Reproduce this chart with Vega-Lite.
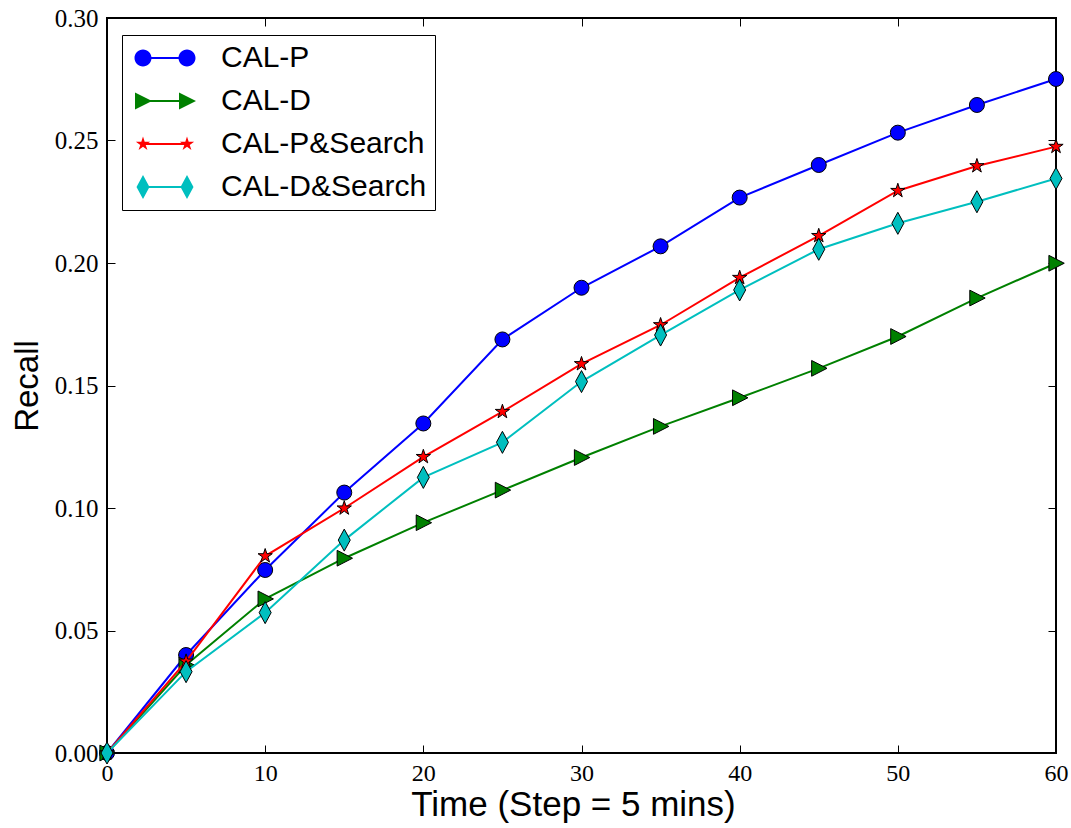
{
  "$schema": "https://vega.github.io/schema/vega-lite/v6.json",
  "width": 949,
  "height": 735,
  "autosize": {"type": "none"},
  "padding": {"left": 107, "top": 18, "right": 15, "bottom": 75},
  "background": "white",
  "config": {
    "view": {"stroke": "black", "strokeWidth": 2},
    "axis": {"grid": false, "domain": false}
  },
  "data": {
    "values": [
      {"series": "CAL-P", "t": 0, "recall": 0},
      {"series": "CAL-P", "t": 5, "recall": 0.0400},
      {"series": "CAL-P", "t": 10, "recall": 0.0747},
      {"series": "CAL-P", "t": 15, "recall": 0.1063},
      {"series": "CAL-P", "t": 20, "recall": 0.1345},
      {"series": "CAL-P", "t": 25, "recall": 0.1688},
      {"series": "CAL-P", "t": 30, "recall": 0.1899},
      {"series": "CAL-P", "t": 35, "recall": 0.2068},
      {"series": "CAL-P", "t": 40, "recall": 0.2267},
      {"series": "CAL-P", "t": 45, "recall": 0.2400},
      {"series": "CAL-P", "t": 50, "recall": 0.2532},
      {"series": "CAL-P", "t": 55, "recall": 0.2645},
      {"series": "CAL-P", "t": 60, "recall": 0.2751},
      {"series": "CAL-D", "t": 0, "recall": 0},
      {"series": "CAL-D", "t": 5, "recall": 0.0359},
      {"series": "CAL-D", "t": 10, "recall": 0.0629},
      {"series": "CAL-D", "t": 15, "recall": 0.0795},
      {"series": "CAL-D", "t": 20, "recall": 0.0940},
      {"series": "CAL-D", "t": 25, "recall": 0.1073},
      {"series": "CAL-D", "t": 30, "recall": 0.1206},
      {"series": "CAL-D", "t": 35, "recall": 0.1333},
      {"series": "CAL-D", "t": 40, "recall": 0.1450},
      {"series": "CAL-D", "t": 45, "recall": 0.1570},
      {"series": "CAL-D", "t": 50, "recall": 0.1700},
      {"series": "CAL-D", "t": 55, "recall": 0.1857},
      {"series": "CAL-D", "t": 60, "recall": 0.1999},
      {"series": "CAL-P&Search", "t": 0, "recall": 0},
      {"series": "CAL-P&Search", "t": 5, "recall": 0.0374},
      {"series": "CAL-P&Search", "t": 10, "recall": 0.0804},
      {"series": "CAL-P&Search", "t": 15, "recall": 0.0999},
      {"series": "CAL-P&Search", "t": 20, "recall": 0.1209},
      {"series": "CAL-P&Search", "t": 25, "recall": 0.1393},
      {"series": "CAL-P&Search", "t": 30, "recall": 0.1588},
      {"series": "CAL-P&Search", "t": 35, "recall": 0.1747},
      {"series": "CAL-P&Search", "t": 40, "recall": 0.1940},
      {"series": "CAL-P&Search", "t": 45, "recall": 0.2111},
      {"series": "CAL-P&Search", "t": 50, "recall": 0.2295},
      {"series": "CAL-P&Search", "t": 55, "recall": 0.2396},
      {"series": "CAL-P&Search", "t": 60, "recall": 0.2475},
      {"series": "CAL-D&Search", "t": 0, "recall": 0},
      {"series": "CAL-D&Search", "t": 5, "recall": 0.0332},
      {"series": "CAL-D&Search", "t": 10, "recall": 0.0573},
      {"series": "CAL-D&Search", "t": 15, "recall": 0.0869},
      {"series": "CAL-D&Search", "t": 20, "recall": 0.1125},
      {"series": "CAL-D&Search", "t": 25, "recall": 0.1268},
      {"series": "CAL-D&Search", "t": 30, "recall": 0.1516},
      {"series": "CAL-D&Search", "t": 35, "recall": 0.1706},
      {"series": "CAL-D&Search", "t": 40, "recall": 0.1890},
      {"series": "CAL-D&Search", "t": 45, "recall": 0.2056},
      {"series": "CAL-D&Search", "t": 50, "recall": 0.2162},
      {"series": "CAL-D&Search", "t": 55, "recall": 0.2250},
      {"series": "CAL-D&Search", "t": 60, "recall": 0.2345}
    ]
  },
  "resolve": {"axis": {"x": "independent", "y": "independent"}},
  "layer": [
    {
      "transform": [{"filter": "datum.t < 0"}],
      "mark": {"type": "point", "filled": true, "opacity": 1},
      "encoding": {
        "x": {"field": "t", "type": "quantitative", "axis": null},
        "y": {"field": "recall", "type": "quantitative", "axis": null},
        "color": {
          "field": "series", "type": "nominal",
          "scale": {
            "domain": ["CAL-P", "CAL-D", "CAL-P&Search", "CAL-D&Search"],
            "range": ["#0000ff", "#008000", "#ff0000", "#00bfbf"]
          },
          "legend": {
            "title": null, "orient": "none", "legendX": 15, "legendY": 17,
            "padding": 8, "strokeColor": "black", "fillColor": "white", "cornerRadius": 0,
            "labelFont": "Liberation Sans", "labelFontSize": 30, "labelColor": "black", "labelLimit": 400,
            "labelExpr": "datum.label + ' \u2009'",
            "labelOffset": 41, "symbolOffset": 20, "symbolSize": 400, "rowPadding": 13,
            "symbolOpacity": 1
          }
        },
        "shape": {
          "field": "series", "type": "nominal",
          "scale": {
            "domain": ["CAL-P", "CAL-D", "CAL-P&Search", "CAL-D&Search"],
            "range": [
              "M-2.2,-0.1 L2.2,-0.1 L2.2,0.1 L-2.2,0.1 Z M-3.05,0 A0.85,0.85 0 0,1 -2.2,-0.85 A0.85,0.85 0 0,1 -1.35,0 A0.85,0.85 0 0,1 -2.2,0.85 A0.85,0.85 0 0,1 -3.05,0 Z M1.35,0 A0.85,0.85 0 0,1 2.2,-0.85 A0.85,0.85 0 0,1 3.05,0 A0.85,0.85 0 0,1 2.2,0.85 A0.85,0.85 0 0,1 1.35,0 Z",
              "M-2.2,-0.1 L2.2,-0.1 L2.2,0.1 L-2.2,0.1 Z M-3,-0.85 L-1.3,0 L-3,0.85 Z M1.4,-0.85 L3.1,0 L1.4,0.85 Z",
              "M-2.2,-0.1 L2.2,-0.1 L2.2,0.1 L-2.2,0.1 Z M-2.2,-0.75 L-2.032,-0.232 L-1.487,-0.232 L-1.928,0.089 L-1.759,0.607 L-2.2,0.287 L-2.641,0.607 L-2.472,0.089 L-2.913,-0.232 L-2.368,-0.232 Z M2.2,-0.75 L2.368,-0.232 L2.913,-0.232 L2.472,0.089 L2.641,0.607 L2.2,0.287 L1.759,0.607 L1.928,0.089 L1.487,-0.232 L2.032,-0.232 Z",
              "M-2.2,-0.1 L2.2,-0.1 L2.2,0.1 L-2.2,0.1 Z M-2.2,-1.2 L-1.55,0 L-2.2,1.2 L-2.85,0 Z M2.2,-1.2 L2.85,0 L2.2,1.2 L1.55,0 Z"
            ]
          },
          "legend": {
            "title": null, "orient": "none", "legendX": 15, "legendY": 17,
            "padding": 8, "strokeColor": "black", "fillColor": "white", "cornerRadius": 0,
            "labelFont": "Liberation Sans", "labelFontSize": 30, "labelColor": "black", "labelLimit": 400,
            "labelExpr": "datum.label + ' \u2009'",
            "labelOffset": 41, "symbolOffset": 20, "symbolSize": 400, "rowPadding": 13,
            "symbolOpacity": 1
          }
        }
      }
    },
    {
      "transform": [{"filter": "datum.series === 'CAL-P'"}],
      "mark": {"type": "line", "strokeWidth": 2, "color": "#0000ff", "clip": false},
      "encoding": {
        "x": {
          "field": "t", "type": "quantitative",
          "scale": {"domain": [0, 60], "nice": false, "zero": false},
          "axis": {
            "orient": "bottom", "values": [0, 10, 20, 30, 40, 50, 60], "format": "d",
            "tickSize": -8, "tickWidth": 1, "tickColor": "black",
            "labelFont": "Liberation Serif", "labelFontSize": 24, "labelColor": "black",
            "labelPadding": 16, "labelFlush": false, "labelOverlap": false, "labelBound": false,
            "title": "Time (Step = 5 mins)", "titleFont": "Liberation Sans", "titleFontSize": 35,
            "titleFontWeight": "normal", "titleColor": "black", "titleBaseline": "alphabetic",
            "titleAlign": "center", "titleX": 466, "titleY": 62
          }
        },
        "y": {
          "field": "recall", "type": "quantitative",
          "scale": {"domain": [0, 0.3], "nice": false, "zero": false},
          "axis": {
            "orient": "left", "values": [0, 0.05, 0.1, 0.15, 0.2, 0.25, 0.3], "format": ".2f",
            "tickSize": -8, "tickWidth": 1, "tickColor": "black",
            "labelFont": "Liberation Serif", "labelFontSize": 25, "labelColor": "black",
            "labelPadding": 17, "labelFlush": false, "labelOverlap": false, "labelBound": false,
            "title": "Recall", "titleFont": "Liberation Sans", "titleFontSize": 33,
            "titleFontWeight": "normal", "titleColor": "black", "titleBaseline": "alphabetic", "titleX": -70
          }
        }
      }
    },
    {
      "transform": [{"filter": "datum.series === 'CAL-P'"}],
      "mark": {"type": "point", "shape": "circle", "filled": true, "color": "#0000ff", "opacity": 1, "stroke": "black", "strokeWidth": 1, "size": 225, "clip": false},
      "encoding": {
        "x": {
          "field": "t", "type": "quantitative",
          "axis": {
            "orient": "top", "values": [0, 10, 20, 30, 40, 50, 60], "labels": false, "title": null,
            "tickSize": -8, "tickWidth": 1, "tickColor": "black"
          }
        },
        "y": {
          "field": "recall", "type": "quantitative",
          "axis": {
            "orient": "right", "values": [0, 0.05, 0.1, 0.15, 0.2, 0.25, 0.3], "labels": false, "title": null,
            "tickSize": -8, "tickWidth": 1, "tickColor": "black"
          }
        }
      }
    },
    {
      "transform": [{"filter": "datum.series === 'CAL-D'"}],
      "mark": {"type": "line", "strokeWidth": 2, "color": "#008000", "clip": false},
      "encoding": {
        "x": {"field": "t", "type": "quantitative", "axis": null},
        "y": {"field": "recall", "type": "quantitative", "axis": null}
      }
    },
    {
      "transform": [{"filter": "datum.series === 'CAL-D'"}],
      "mark": {"type": "point", "shape": "M-0.95,-1.05 L1.1,0 L-0.95,1.05 Z", "filled": true, "color": "#008000", "opacity": 1, "stroke": "black", "strokeWidth": 1, "size": 225, "clip": false},
      "encoding": {
        "x": {"field": "t", "type": "quantitative", "axis": null},
        "y": {"field": "recall", "type": "quantitative", "axis": null}
      }
    },
    {
      "transform": [{"filter": "datum.series === 'CAL-P&Search'"}],
      "mark": {"type": "line", "strokeWidth": 2, "color": "#ff0000", "clip": false},
      "encoding": {
        "x": {"field": "t", "type": "quantitative", "axis": null},
        "y": {"field": "recall", "type": "quantitative", "axis": null}
      }
    },
    {
      "transform": [{"filter": "datum.series === 'CAL-P&Search'"}],
      "mark": {"type": "point", "shape": "M0,-1 L0.2245,-0.309 L0.9511,-0.309 L0.3633,0.118 L0.5878,0.809 L0,0.382 L-0.5878,0.809 L-0.3633,0.118 L-0.9511,-0.309 L-0.2245,-0.309 Z", "filled": true, "color": "#ff0000", "opacity": 1, "stroke": "black", "strokeWidth": 1, "size": 225, "clip": false},
      "encoding": {
        "x": {"field": "t", "type": "quantitative", "axis": null},
        "y": {"field": "recall", "type": "quantitative", "axis": null}
      }
    },
    {
      "transform": [{"filter": "datum.series === 'CAL-D&Search'"}],
      "mark": {"type": "line", "strokeWidth": 2, "color": "#00bfbf", "clip": false},
      "encoding": {
        "x": {"field": "t", "type": "quantitative", "axis": null},
        "y": {"field": "recall", "type": "quantitative", "axis": null}
      }
    },
    {
      "transform": [{"filter": "datum.series === 'CAL-D&Search'"}],
      "mark": {"type": "point", "shape": "M0,-1.47 L0.8,0 L0,1.47 L-0.8,0 Z", "filled": true, "color": "#00bfbf", "opacity": 1, "stroke": "black", "strokeWidth": 1, "size": 225, "clip": false},
      "encoding": {
        "x": {"field": "t", "type": "quantitative", "axis": null},
        "y": {"field": "recall", "type": "quantitative", "axis": null}
      }
    }
  ]
}
